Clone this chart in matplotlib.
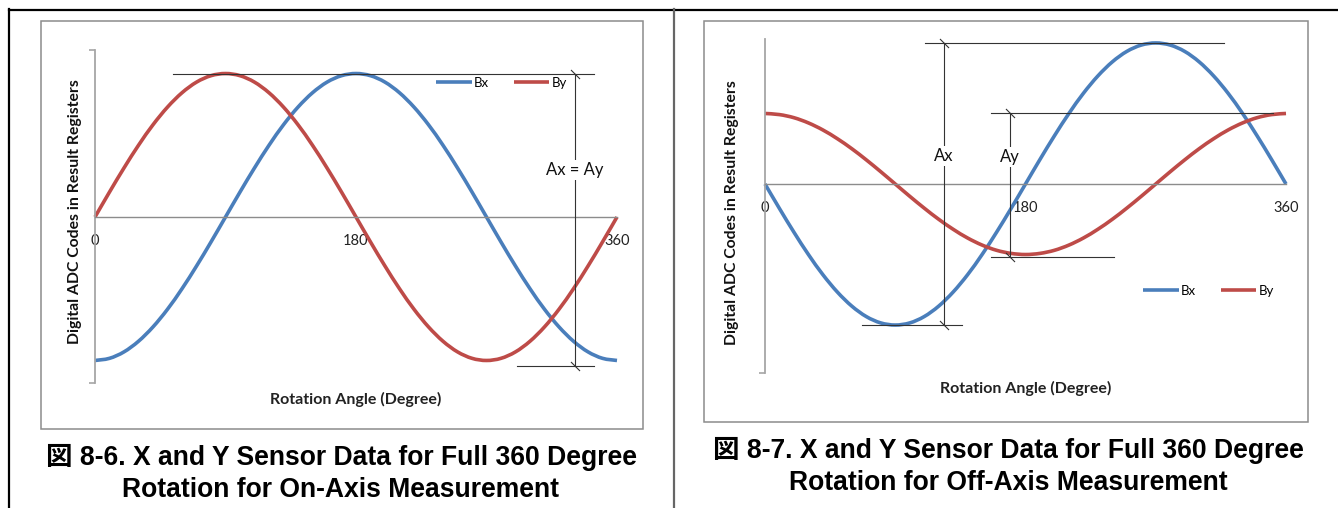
import matplotlib
matplotlib.use("Agg")
import matplotlib.pyplot as plt
from matplotlib.path import Path
from matplotlib.patches import Rectangle, PathPatch
from matplotlib.lines import Line2D

# ---- data (degrees, normalised ADC codes) ----
angles = list(range(0, 361, 10))

on_bx = [-1.000, -0.985, -0.940, -0.866, -0.766, -0.643, -0.500, -0.342, -0.174, 0.000,
         0.174, 0.342, 0.500, 0.643, 0.766, 0.866, 0.940, 0.985, 1.000, 0.985,
         0.940, 0.866, 0.766, 0.643, 0.500, 0.342, 0.174, 0.000, -0.174, -0.342,
         -0.500, -0.643, -0.766, -0.866, -0.940, -0.985, -1.000]
on_by = [0.000, 0.174, 0.342, 0.500, 0.643, 0.766, 0.866, 0.940, 0.985, 1.000,
         0.985, 0.940, 0.866, 0.766, 0.643, 0.500, 0.342, 0.174, 0.000, -0.174,
         -0.342, -0.500, -0.643, -0.766, -0.866, -0.940, -0.985, -1.000, -0.985, -0.940,
         -0.866, -0.766, -0.643, -0.500, -0.342, -0.174, 0.000]

off_bx = [0.000, -0.174, -0.342, -0.500, -0.643, -0.766, -0.866, -0.940, -0.985, -1.000,
          -0.985, -0.940, -0.866, -0.766, -0.643, -0.500, -0.342, -0.174, 0.000, 0.174,
          0.342, 0.500, 0.643, 0.766, 0.866, 0.940, 0.985, 1.000, 0.985, 0.940,
          0.866, 0.766, 0.643, 0.500, 0.342, 0.174, 0.000]
off_by = [0.500, 0.492, 0.470, 0.433, 0.383, 0.321, 0.250, 0.171, 0.087, 0.000,
          -0.087, -0.171, -0.250, -0.321, -0.383, -0.433, -0.470, -0.492, -0.500, -0.492,
          -0.470, -0.433, -0.383, -0.321, -0.250, -0.171, -0.087, 0.000, 0.087, 0.171,
          0.250, 0.321, 0.383, 0.433, 0.470, 0.492, 0.500]

tick_vals = [0, 180, 360]
tick_labels = ["0", "180", "360"]

captions = [
    ("図 8-6. X and Y Sensor Data for Full 360 Degree", "Rotation for On-Axis Measurement"),
    ("図 8-7. X and Y Sensor Data for Full 360 Degree", "Rotation for Off-Axis Measurement"),
]

BLUE = "#4A7EBB"
RED = "#BE4B48"
AXGRAY = "#8c8c8c"
ANN = "#333333"
CHART_FONT = ["Lato", "DejaVu Sans"]
CAP_FONT = ["Liberation Sans", "Noto Sans CJK JP"]

W, H = 1338, 508
fig = plt.figure(figsize=(W / 100, H / 100), dpi=100, facecolor="white")

# background axes in pixel coordinates for frames and captions
bg = fig.add_axes([0, 0, 1, 1])
bg.set_xlim(0, W)
bg.set_ylim(H, 0)
bg.axis("off")


def axes_px(left, top, right, bottom):
    return fig.add_axes([left / W, 1 - bottom / H, (right - left) / W, (bottom - top) / H])


# outer frame + divider
bg.plot([9, W], [9.5, 9.5], color="black", lw=1.6)
bg.plot([9, 9], [9, H], color="black", lw=1.6)
bg.plot([673.5, 673.5], [9, H], color="#666666", lw=1.6)

# chart boxes
bg.add_patch(Rectangle((41, 21), 602, 408, fill=False, ec=AXGRAY, lw=1.1))
bg.add_patch(Rectangle((704, 21), 604, 401, fill=False, ec=AXGRAY, lw=1.1))

slash = Path([(-1, 1), (1, -1)], [Path.MOVETO, Path.LINETO])


def smooth_path(xs, ys):
    # Excel-style smoothed line: cubic Bezier through the points
    pts = list(zip(xs, ys))
    n = len(pts)
    verts, codes = [pts[0]], [Path.MOVETO]
    for i in range(n - 1):
        p0 = pts[i - 1] if i > 0 else pts[i]
        p1, p2 = pts[i], pts[i + 1]
        p3 = pts[i + 2] if i + 2 < n else pts[i + 1]
        c1 = (p1[0] + (p2[0] - p0[0]) / 6, p1[1] + (p2[1] - p0[1]) / 6)
        c2 = (p2[0] - (p3[0] - p1[0]) / 6, p2[1] - (p3[1] - p1[1]) / 6)
        verts += [c1, c2, p2]
        codes += [Path.CURVE4] * 3
    return Path(verts, codes)


def setup_axes(ax, ylim, end_ticks):
    ax.set_xlim(0, 360)
    ax.set_ylim(*ylim)
    ax.patch.set_alpha(0)
    for s in ["top", "right"]:
        ax.spines[s].set_visible(False)
    ax.spines["left"].set_color("#a6a6a6")
    ax.spines["left"].set_linewidth(1.3)
    ax.spines["bottom"].set_position(("data", 0))
    ax.spines["bottom"].set_color(AXGRAY)
    ax.spines["bottom"].set_linewidth(1.0)
    ax.set_xticks(tick_vals)
    ax.set_xticklabels(tick_labels, fontsize=10.5, family=CHART_FONT, color="#222222")
    ax.tick_params(axis="x", length=0, pad=12)
    ax.set_yticks(end_ticks)
    ax.set_yticklabels([])
    ax.tick_params(axis="y", length=4.5, width=1.2, color="#a6a6a6")


def draw_curves(ax, bx, by):
    for ys, col in [(bx, BLUE), (by, RED)]:
        ax.add_patch(PathPatch(smooth_path(angles, ys), fill=False, ec=col, lw=2.6,
                               clip_on=False, zorder=2, capstyle="butt"))


def dim(ax, x, y0, y1, text, ty, x_top, x_bot):
    kw = dict(color=ANN, lw=0.8, clip_on=False, zorder=3)
    ax.plot(x_top, [y1, y1], **kw)
    ax.plot(x_bot, [y0, y0], **kw)
    ax.plot([x, x], [y0, y1], **kw)
    ax.plot([x, x], [y0, y1], ls="none", marker=slash, ms=6.5, mew=0.8,
            mec=ANN, clip_on=False, zorder=3)
    ax.text(x, ty, text, ha="center", va="center", fontsize=12, family=CHART_FONT,
            color="#111111", zorder=4,
            bbox=dict(fc="white", ec="none", pad=1.5))


def legend(ax, px, py):
    handles = [Line2D([], [], color=BLUE, lw=2.6, solid_capstyle="butt"),
               Line2D([], [], color=RED, lw=2.6, solid_capstyle="butt")]
    ax.legend(handles, ["Bx", "By"], loc="center left",
              bbox_to_anchor=(px / W, 1 - py / H),
              bbox_transform=fig.transFigure, ncol=2, frameon=False,
              prop={"family": CHART_FONT, "size": 9.5}, handlelength=2.7,
              handletextpad=0.15, columnspacing=1.9, borderpad=0, borderaxespad=0)


# ---- panel 1: on-axis ----
ax1 = axes_px(95, 50, 617, 383)
setup_axes(ax1, (-1.157, 1.164), [-1.157, 1.164])
draw_curves(ax1, on_bx, on_by)
dim(ax1, 331, -1.04, max(on_bx), "Ax = Ay", 0.33, [54, 344], [291, 344])
legend(ax1, 436, 83)

# ---- panel 2: off-axis ----
ax2 = axes_px(765, 39, 1286, 373)
setup_axes(ax2, (-1.34, 1.028), [-1.34])
draw_curves(ax2, off_bx, off_by)
dim(ax2, 123.7, min(off_bx), max(off_bx), "Ax", 0.2, [110.6, 317], [67, 136])
dim(ax2, 169.3, -0.52, max(off_by), "Ay", 0.19, [156, 351], [156, 241])
legend(ax2, 1143, 291)

# axis titles
for cx, cy, ylx, yly in [(356, 399, 75, 212), (1026, 388, 732, 213)]:
    bg.text(cx, cy, "Rotation Angle (Degree)", ha="center", va="center",
            fontsize=11.5, fontweight="bold", family=CHART_FONT, color="#222222")
    bg.text(ylx, yly, "Digital ADC Codes in Result Registers", ha="center",
            va="center", rotation=90, fontsize=11.3, fontweight="bold",
            family=CHART_FONT, color="#111111")

# captions
for (l1, l2), cx, b1, b2 in [(captions[0], 341, 465, 497), (captions[1], 1008, 458, 490)]:
    bg.text(cx, b1, l1, ha="center", va="baseline", fontsize=19.1,
            fontweight="bold", family=CAP_FONT, color="black")
    bg.text(cx, b2, l2, ha="center", va="baseline", fontsize=19.1,
            fontweight="bold", family=CAP_FONT, color="black")

fig.savefig("out.png", dpi=100, facecolor="white")
